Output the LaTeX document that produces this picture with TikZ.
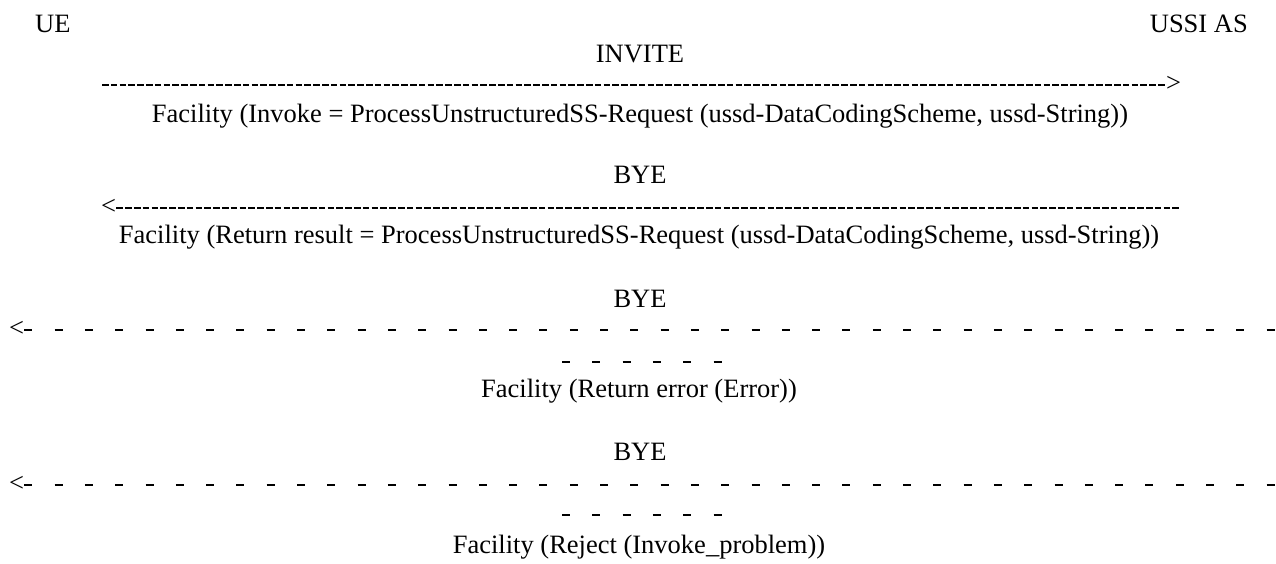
\documentclass[tikz,border=0pt]{standalone}
\usepackage{fontspec}
\setmainfont{Liberation Serif}
\begin{document}
\begin{tikzpicture}[x=1pt,y=-1pt,
  font=\fontsize{26.5}{30.5}\selectfont,
  lbl/.style={anchor=base, inner sep=0pt},
  glyph/.style={anchor=base west, inner sep=0pt},
  tight/.style={line width=1.4pt, dash pattern=on 6.6pt off 2.2pt},
  spaced/.style={line width=2.2pt, dash pattern=on 8pt off 22.3pt}]
\useasboundingbox (0,0) rectangle (1276,563);
% participants
\node[glyph] (ue) at (35,32) {UE};
\node[anchor=base east, inner sep=0pt] (as) at (1248,32) {USSI AS};
% message 1
\node[lbl] (invite) at (640,62) {INVITE};
\coordinate (l1) at (102,85);
\node[glyph] (gt1) at (1166,91.6) {>};
\draw[tight] (l1) -- (l1 -| gt1.west);
\node[lbl] (f1) at (640,122) {Facility (Invoke = ProcessUnstructuredSS-Request (ussd-DataCodingScheme, ussd-String))};
% message 2
\node[lbl] (bye1) at (640,183) {BYE};
\node[glyph] (lt2) at (101,214.6) {<};
\coordinate (r2) at (1180,208);
\draw[tight] (lt2.east |- r2) -- (r2);
\node[lbl] (f2) at (639,243) {Facility (Return result = ProcessUnstructuredSS-Request (ussd-DataCodingScheme, ussd-String))};
% message 3
\node[lbl] (bye2) at (640,307) {BYE};
\node[glyph] (lt3) at (9,336.6) {<};
\coordinate (r3) at (1276,330);
\draw[spaced] (lt3.east |- r3) -- (r3);
\coordinate (s3a) at (562,362);
\coordinate (s3b) at (723,362);
\draw[spaced] (s3a) -- (s3b);
\node[lbl] (f3) at (639,397) {Facility (Return error (Error))};
% message 4
\node[lbl] (bye3) at (640,460) {BYE};
\node[glyph] (lt4) at (9,491.6) {<};
\coordinate (r4) at (1276,485);
\draw[spaced] (lt4.east |- r4) -- (r4);
\coordinate (s4a) at (562,515);
\coordinate (s4b) at (723,515);
\draw[spaced] (s4a) -- (s4b);
\node[lbl] (f4) at (639,553) {Facility (Reject (Invoke\_problem))};
\end{tikzpicture}
\end{document}
